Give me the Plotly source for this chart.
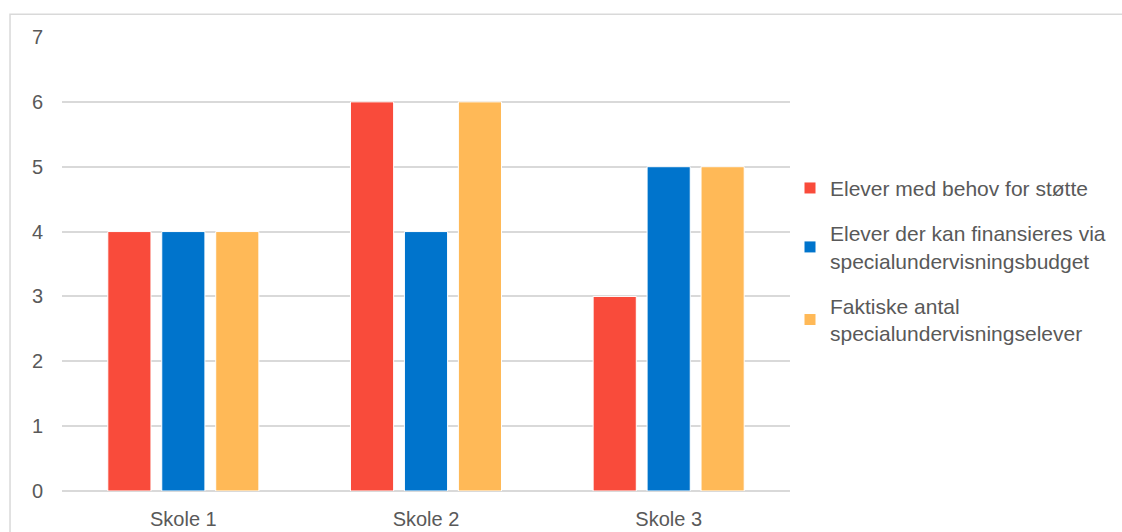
import plotly.graph_objects as go

categories = ["Skole 1", "Skole 2", "Skole 3"]
series_names = [
    "Elever med behov for støtte",
    "Elever der kan finansieres via<br>specialundervisningsbudget",
    "Faktiske antal<br>specialundervisningselever",
]
values_need = [4, 6, 3]
values_budget = [4, 4, 5]
values_actual = [4, 6, 5]
colors = ["#F94B3B", "#0074CC", "#FFB957"]
y_ticks = [0, 1, 2, 3, 4, 5, 6, 7]

fig = go.Figure()
for i, (name, vals) in enumerate(zip(series_names, [values_need, values_budget, values_actual])):
    fig.add_trace(go.Bar(
        x=categories, y=vals, name=name, legendgroup=f"g{i}",
        marker=dict(color=colors[i], line=dict(color="white", width=1)),
    ))

fig.update_layout(
    width=1122, height=532,
    margin=dict(l=62, r=332, t=37, b=41, autoexpand=False),
    paper_bgcolor="white", plot_bgcolor="white",
    barmode="group", bargap=0.333, bargroupgap=0.2,
    font=dict(family="Liberation Sans, Arial, sans-serif", size=20, color="#595959"),
    xaxis=dict(showgrid=False, showline=False, ticks="", ticklabelstandoff=14, automargin=False,
               tickfont=dict(size=20, color="#595959")),
    yaxis=dict(range=[0, 7], tickvals=y_ticks, showgrid=True, gridcolor="#D9D9D9", gridwidth=1.5,
               zeroline=True, zerolinecolor="#D9D9D9", zerolinewidth=1.5, automargin=False,
               ticks="", ticklen=0, ticklabelstandoff=18,
               tickfont=dict(size=20, color="#595959")),
    legend=dict(x=1.0, y=0.507, xanchor="left", yanchor="middle",
                font=dict(size=21, color="#595959"), tracegroupgap=15,
                itemwidth=30, traceorder="grouped"),
    showlegend=True,
    shapes=[dict(type="rect", xref="paper", yref="paper",
                 x0=-0.0714, x1=1.5, y0=-0.2, y1=1.05,
                 line=dict(color="#D9D9D9", width=1.5), fillcolor="rgba(0,0,0,0)", layer="below")],
)

fig.write_html("out.html")
